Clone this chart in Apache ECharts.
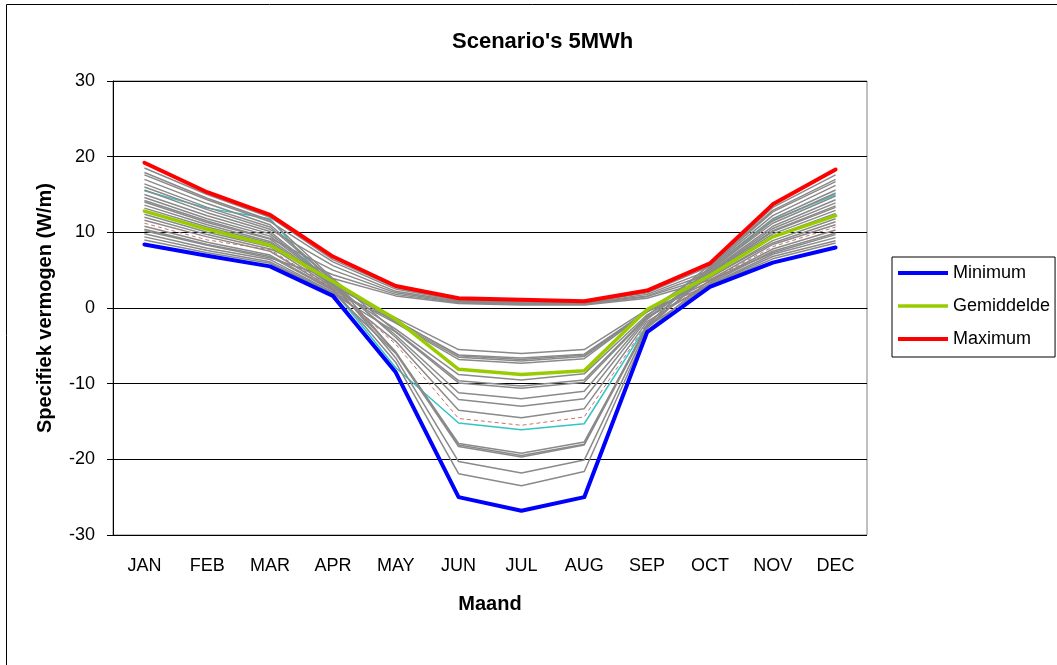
<!DOCTYPE html>
<html lang="nl">
<head>
  <meta charset="UTF-8" />
  <title>Scenario's 5MWh</title>
  <script src="https://cdn.jsdelivr.net/npm/echarts@6/dist/echarts.min.js"></script>
  <style>
    body {
      margin: 0;
      padding: 0;
      background-color: #fff;
    }
    #chart {
      width: 1057px;
      height: 665px;
    }
  </style>
</head>
<body>
  <div id="chart"></div>

  <script>
    const months = ["JAN", "FEB", "MAR", "APR", "MAY", "JUN", "JUL", "AUG", "SEP", "OCT", "NOV", "DEC"];

    const minimum    = [8.4, 6.9, 5.5, 1.6, -8.5, -25.0, -26.8, -25.0, -3.2, 2.8, 6.0, 8.0];
    const gemiddelde = [12.8, 10.4, 8.3, 3.5, -1.5, -8.1, -8.8, -8.3, -0.2, 4.3, 9.4, 12.2];
    const maximum    = [19.2, 15.3, 12.3, 6.8, 2.9, 1.3, 1.1, 0.9, 2.3, 5.9, 13.7, 18.3];

    // losse scenario's (grijs)
    const scenarios = [
      [18.5, 15.0, 12.0, 6.4, 2.7, 1.1, 0.9, 0.8, 2.2, 5.7, 13.3, 17.6],
      [17.6, 14.3, 11.4, 6.1, 2.5, 1.0, 0.8, 0.7, 2.0, 5.5, 12.7, 16.7],
      [16.0, 13.0, 10.4, 5.6, 2.2, 0.9, 0.7, 0.6, 1.8, 5.0, 11.5, 15.2],
      [14.2, 11.5, 9.2, 5.0, 2.0, 0.8, 0.6, 0.6, 1.6, 4.6, 10.2, 13.5],
      [12.0, 9.7, 7.8, 4.4, 1.8, 0.7, 0.5, 0.5, 1.5, 4.1, 8.6, 11.4],
      [10.2, 8.3, 6.6, 3.9, 1.6, 0.6, 0.4, 0.4, 1.3, 3.7, 7.3, 9.7],
      [17.9, 14.5, 11.6, 3.9, -3.1, -9.6, -10.3, -9.5, -1.1, 5.7, 12.9, 17.0],
      [17.0, 13.8, 11.0, 3.7, -5.9, -18.1, -19.5, -18.0, -2.2, 5.4, 12.2, 16.2],
      [16.4, 13.3, 10.7, 3.6, -1.7, -6.2, -6.6, -6.1, -0.4, 5.2, 11.8, 15.6],
      [15.6, 12.6, 10.1, 3.4, -3.9, -12.1, -13.0, -12.0, -1.5, 5.0, 11.2, 14.8],
      [15.0, 12.2, 9.8, 3.3, -6.6, -20.3, -21.8, -20.1, -2.7, 4.8, 10.8, 14.3],
      [14.6, 11.8, 9.5, 3.2, -1.9, -6.5, -7.0, -6.4, -0.5, 4.7, 10.5, 13.9],
      [14.0, 11.3, 9.1, 3.1, -3.6, -11.2, -12.0, -11.0, -1.3, 4.5, 10.1, 13.3],
      [13.6, 11.0, 8.8, 3.0, -5.8, -17.9, -19.2, -17.7, -2.4, 4.4, 9.8, 12.9],
      [13.2, 10.7, 8.6, 2.9, -1.3, -5.5, -6.0, -5.5, -0.2, 4.2, 9.5, 12.5],
      [12.4, 10.0, 8.1, 2.7, -2.8, -8.8, -9.5, -8.7, -0.9, 4.0, 8.9, 11.8],
      [11.6, 9.4, 7.5, 2.5, -7.2, -21.9, -23.5, -21.6, -3.0, 3.7, 8.4, 11.0],
      [10.8, 8.7, 7.0, 2.4, -2.0, -6.8, -7.3, -6.7, -0.5, 3.5, 7.8, 10.3],
      [10.4, 8.4, 6.8, 2.3, -4.4, -13.5, -14.5, -13.3, -1.8, 3.3, 7.5, 9.9],
      [9.8, 7.9, 6.4, 2.1, -6.0, -18.3, -19.7, -18.1, -2.5, 3.1, 7.1, 9.3],
      [9.4, 7.6, 6.1, 2.0, -1.6, -6.3, -6.8, -6.2, -0.4, 3.0, 6.8, 8.9],
      [9.0, 7.3, 5.9, 1.9, -3.2, -9.9, -10.6, -9.8, -1.2, 2.9, 6.5, 8.6]
    ];
    const scenarioRood  = [11.2, 9.0, 7.7, 2.6, -4.8, -14.6, -15.5, -14.4, -2.0, 3.6, 8.1, 10.7];
    const scenarioCyaan = [15.5, 13.2, 11.8, 2.4, -7.9, -15.2, -16.1, -15.3, -2.2, 5.3, 11.6, 15.0];

    const font = "'Liberation Sans', Arial, sans-serif";
    const chart = echarts.init(document.getElementById("chart"));

    // cyaan eerst, zodat de grijze lijnen er in de winter overheen vallen
    const series = [{
      name: "cyaan", type: "line", data: scenarioCyaan, symbol: "none", silent: true,
      lineStyle: { color: "#33c4c4", width: 1.5 }
    }];
    scenarios.forEach((d, i) => {
      series.push({
        name: "s" + (i + 1),
        type: "line",
        data: d,
        symbol: "none",
        silent: true,
        lineStyle: { color: "#8a8a8a", width: 1.5 }
      });
    });
    series.push({
      name: "rood", type: "line", data: scenarioRood, symbol: "none", silent: true,
      lineStyle: { color: "#c87070", width: 1, type: [4, 3] }
    });
    series.push({
      name: "Minimum", type: "line", data: minimum, symbol: "none",
      itemStyle: { color: "#0000ff" },
      lineStyle: { color: "#0000ff", width: 4, cap: "round", join: "round" }
    });
    series.push({
      name: "Gemiddelde", type: "line", data: gemiddelde, symbol: "none",
      itemStyle: { color: "#99cc00" },
      lineStyle: { color: "#99cc00", width: 3.5, cap: "round", join: "round" }
    });
    series.push({
      name: "Maximum", type: "line", data: maximum, symbol: "none",
      itemStyle: { color: "#ff0000" },
      lineStyle: { color: "#ff0000", width: 4, cap: "round", join: "round" }
    });

    chart.setOption({
      animation: false,
      title: {
        text: "Scenario's 5MWh",
        left: 447,
        top: 26,
        textStyle: { fontFamily: font, fontSize: 22, fontWeight: "bold", color: "#000" }
      },
      legend: {
        data: [
          { name: "Minimum", icon: "path://M0,0L50,0L50,4L0,4Z", itemStyle: { color: "#0000ff" } },
          { name: "Gemiddelde", icon: "path://M0,0L50,0L50,3.5L0,3.5Z", itemStyle: { color: "#99cc00" } },
          { name: "Maximum", icon: "path://M0,0L50,0L50,4L0,4Z", itemStyle: { color: "#ff0000" } }
        ],
        orient: "vertical",
        left: 892,
        top: 257,
        itemWidth: 50,
        itemHeight: 18,
        itemGap: 15,
        padding: [7, 5, 9, 6],
        borderColor: "#000",
        borderWidth: 1,
        textStyle: { fontFamily: font, fontSize: 18, color: "#000" }
      },
      grid: {
        left: 113,
        top: 81,
        width: 754,
        height: 454,
        show: true,
        borderColor: "#808080",
        borderWidth: 1
      },
      xAxis: {
        type: "category",
        data: months,
        name: "Maand",
        nameLocation: "middle",
        nameGap: 59,
        nameTextStyle: { fontFamily: font, fontSize: 20, fontWeight: "bold", color: "#000" },
        axisLine: { lineStyle: { color: "#000", width: 1 } },
        axisTick: { length: 6, lineStyle: { color: "#000" } },
        axisLabel: { margin: 22, fontFamily: font, fontSize: 18, color: "#000" },
        splitLine: { show: false }
      },
      yAxis: {
        type: "value",
        min: -30,
        max: 30,
        interval: 10,
        name: "Specifiek vermogen (W/m)",
        nameLocation: "middle",
        nameGap: 58,
        nameTextStyle: { fontFamily: font, fontSize: 20, fontWeight: "bold", color: "#000" },
        axisLine: { show: true, lineStyle: { color: "#000", width: 1 } },
        axisTick: { show: true, length: 6, lineStyle: { color: "#000" } },
        axisLabel: { margin: 18, fontFamily: font, fontSize: 18, color: "#000" },
        splitLine: { lineStyle: { color: "#000", width: 1 } }
      },
      graphic: [{
        type: "rect",
        shape: { x: 6.5, y: 4.5, width: 1100, height: 700 },
        style: { fill: null, stroke: "#000", lineWidth: 1 },
        silent: true
      }],
      series: series
    });
  </script>
</body>
</html>
